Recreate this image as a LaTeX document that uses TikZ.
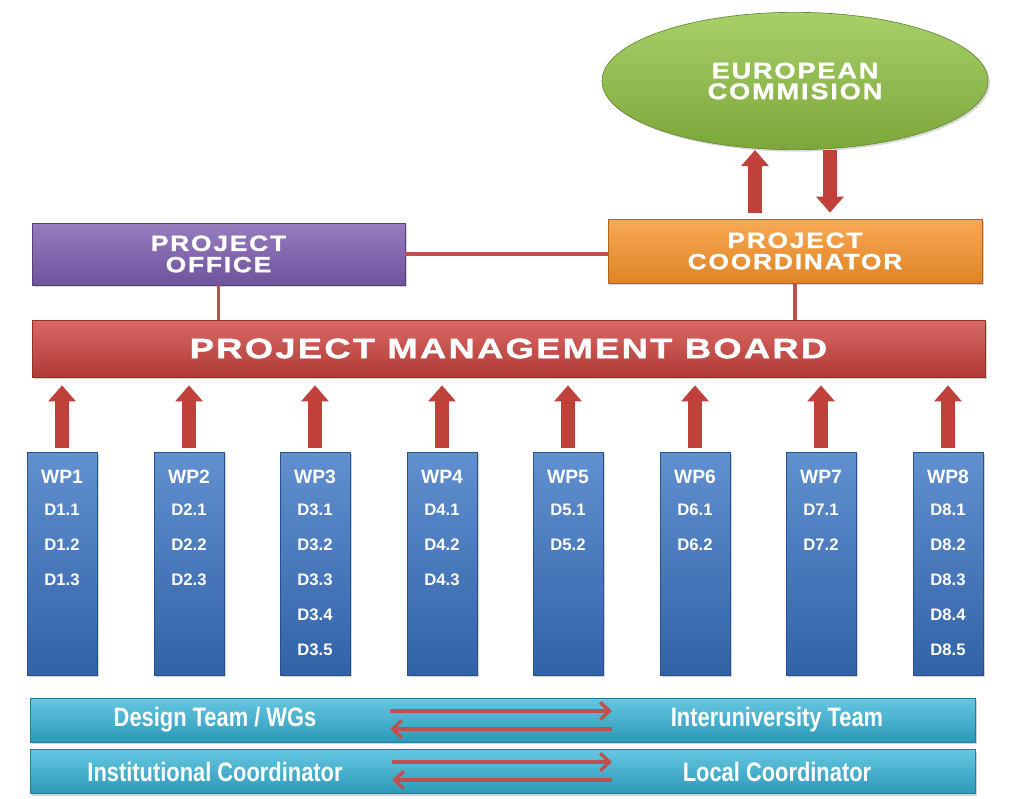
\documentclass[tikz,border=0pt]{standalone}
\usepackage{fontspec}
\setmainfont{Liberation Sans}
\newfontfamily\widefont{Liberation Sans}[FakeStretch=1.2, LetterSpace=8, FakeBold=1.2]
\newfontfamily\widerfont{Liberation Sans}[FakeStretch=1.3, LetterSpace=8, FakeBold=1.2]
\newfontfamily\narrowfont{Liberation Sans}[FakeStretch=0.82]
\usetikzlibrary{arrows.meta,shapes.geometric,shadows}
\definecolor{arrred}{HTML}{C0403A}
\definecolor{linered}{HTML}{C0504D}
\tikzset{
  box/.style={rectangle, draw=#1!70!black, line width=0.5pt, inner sep=0pt, text=white, font=\bfseries, align=center, drop shadow={opacity=0.35, shadow xshift=1.5pt, shadow yshift=-1.5pt}},
  wpbox/.style={box=wpblue, top color=wpblue!80!white, bottom color=wpblue!85!black, minimum width=52.5pt, minimum height=167pt},
  bar/.style={box=barcyan, top color=barcyan!75!white, bottom color=barcyan!85!black, minimum width=708.75pt, minimum height=33pt},
  bigarrow/.style={arrred, line width=10pt, -{Triangle[width=20pt,length=12pt]}},
  thinarrow/.style={linered, line width=3pt, -{Straight Barb[width=13pt,length=7pt,line width=2.5pt]}},
  link/.style={linered, line width=2.5pt},
  wptext/.style={text=white, font=\bfseries\fontsize{14.5}{16}\selectfont},
  dtext/.style={text=white, font=\bfseries\fontsize{12.5}{14}\selectfont},
  bartext/.style={text=white, font=\narrowfont\bfseries\fontsize{20}{22}\selectfont},
}
\definecolor{wpblue}{HTML}{3A74C4}
\definecolor{barcyan}{HTML}{33B4D8}
\definecolor{pmbred}{HTML}{D0443F}
\definecolor{popurple}{HTML}{7C5CAE}
\definecolor{pcorange}{HTML}{F7932A}
\definecolor{ecgreen}{HTML}{92C444}
\begin{document}
\begin{tikzpicture}[x=0.75pt,y=-0.75pt]
\useasboundingbox (0,0) rectangle (1024,799);
% European Commission
\node[ellipse, draw=ecgreen!70!black, line width=0.5pt, top color=ecgreen!80!white, bottom color=ecgreen!85!black,
  minimum width=289.5pt, minimum height=103pt, inner sep=0pt, text=white, align=center,
  font=\widefont\bfseries\fontsize{17}{15.5}\selectfont,
  drop shadow={opacity=0.3, shadow xshift=1.5pt, shadow yshift=-1.5pt}] (ec) at (795,81) {EUROPEAN\\COMMISION};
% Project Coordinator
\node[box=pcorange, top color=pcorange!80!white, bottom color=pcorange!90!black, minimum width=280.5pt, minimum height=48pt,
  font=\widefont\bfseries\fontsize{16.5}{16}\selectfont] (pc) at (795,251) {PROJECT\\COORDINATOR};
% Project Office
\node[box=popurple, top color=popurple!80!white, bottom color=popurple!90!black, minimum width=279.75pt, minimum height=46.5pt,
  font=\widefont\bfseries\fontsize{16.5}{16}\selectfont] (po) at (218.5,254) {PROJECT\\OFFICE};
% PMB
\node[box=pmbred, top color=pmbred!80!white, bottom color=pmbred!85!black, minimum width=714.75pt, minimum height=42.75pt,
  font=\widerfont\bfseries\fontsize{21}{22}\selectfont] (pmb) at (508.5,348.5) {PROJECT MANAGEMENT BOARD};
% links
\draw[link] (po.east) -- (po.east -| pc.west);
\draw[link] (po.south) -- (po.south |- pmb.north);
\draw[link] (pc.south) -- (pc.south |- pmb.north);
% EC arrows
\draw[bigarrow] ([xshift=-30pt,yshift=4.5pt]pc.north) -- ([xshift=-30pt]pc.north |- ec.south);
\draw[bigarrow] ([xshift=26.25pt]pc.north |- ec.south) -- ([xshift=26.25pt,yshift=4.5pt]pc.north);
% WP boxes
\foreach \i/\x in {1/62,2/189,3/315,4/442,5/568,6/695,7/821,8/948}{
  \node[wpbox] (wp\i) at (\x,563.5) {};
  \node[wptext] (wpt\i) at (\x,477) {WP\i};
  \draw[bigarrow] ([yshift=3pt]wp\i.north) -- ([yshift=-6pt]wp\i.north |- pmb.south);
}
\foreach \i/\n in {1/3,2/3,3/5,4/3,5/2,6/2,7/2,8/5}{
  \foreach \k in {1,...,\n}{
    \node[dtext] (d\i-\k) at ([yshift=-(\k*35-2)*0.75pt]wpt\i.center) {D\i.\k};
  }
}
% bottom bars
\node[bar] (bar1) at (502.5,720) {};
\node[bar] (bar2) at (502.5,771.5) {};
\node[bartext] (dt) at (215,720) {Design Team / WGs};
\node[bartext] (it) at (777,720) {Interuniversity Team};
\node[bartext] (ic) at (215,771.5) {Institutional Coordinator};
\node[bartext] (lc) at (777,771.5) {Local Coordinator};
\coordinate (a1l) at (390,711); \coordinate (a1r) at (612,711);
\coordinate (b1l) at (390,729); \coordinate (b1r) at (612,729);
\coordinate (a2l) at (392,762); \coordinate (a2r) at (612,762);
\coordinate (b2l) at (392,780); \coordinate (b2r) at (612,780);
\draw[thinarrow] (a1l) -- (a1r);
\draw[thinarrow] (b1r) -- (b1l);
\draw[thinarrow] (a2l) -- (a2r);
\draw[thinarrow] (b2r) -- (b2l);
\end{tikzpicture}
\end{document}
